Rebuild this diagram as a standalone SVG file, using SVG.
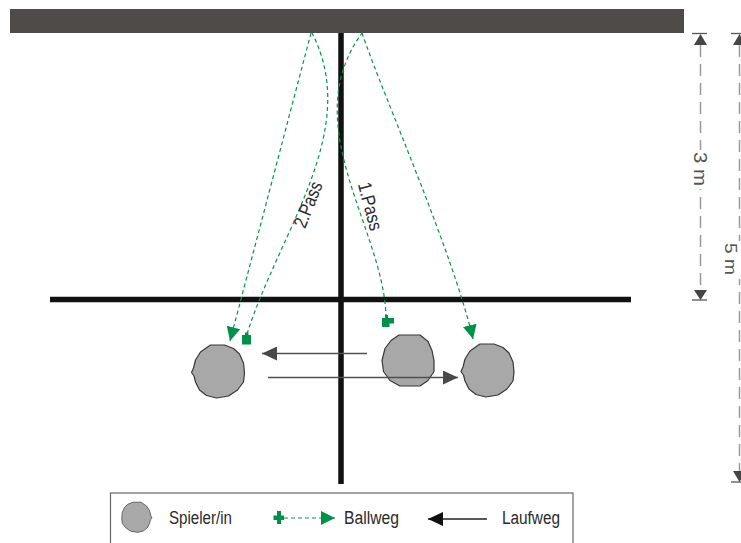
<svg xmlns="http://www.w3.org/2000/svg" width="741" height="543" viewBox="0 0 741 543">
<style>
  .txt { font-family: "Liberation Sans", Arial, sans-serif; fill: #2a2a2a; }
  .player { fill: #a8a8a8; stroke: #383838; stroke-width: 1.2; stroke-linejoin: round; }
  .ball { fill: none; stroke: #0a9150; stroke-width: 1.2; stroke-dasharray: 4 3; }
  .run { fill: none; stroke: #505050; stroke-width: 1.3; }
  .dim { fill: none; stroke: #9a9a9a; stroke-width: 1.5; stroke-dasharray: 12 7; }
  .tick { stroke: #555; stroke-width: 1.3; }
  .dimhead { fill: #454545; }
  .sq { fill: #009048; }
  .court { stroke: #111; stroke-width: 5.5; }
</style>
<defs>
  <marker id="ga" markerUnits="userSpaceOnUse" markerWidth="14" markerHeight="14" viewBox="0 0 14 14" refX="14" refY="7" orient="auto">
    <path d="M0,0 L14,7 L0,14 Z" fill="#009048"/>
  </marker>
  <marker id="ra" markerUnits="userSpaceOnUse" markerWidth="15" markerHeight="14" viewBox="0 0 15 14" refX="15" refY="7" orient="auto">
    <path d="M0,0 L15,7 L0,14 Z" fill="#4a4846"/>
  </marker>
  <marker id="ka" markerUnits="userSpaceOnUse" markerWidth="15" markerHeight="14" viewBox="0 0 15 14" refX="15" refY="7" orient="auto">
    <path d="M0,0 L15,7 L0,14 Z" fill="#111"/>
  </marker>
  <path id="pn" d="M -8,-26 L 6,-26 L 15,-22.5 L 21,-17 L 25,-8 L 26,2 L 25,11 L 19,19 L 10,25 L -2,27 L -12,24.5 L -19,19 L -23,11 L -24.5,5 L -27,1.5 L -25,-3 L -23,-11 L -18,-19 Z"/>
  <path id="pr" d="M -9,-25.5 L 12,-25.5 L 20,-19 L 24,-10 L 26,0 L 26,11 L 20,20 L 12,25.5 L -8,25.5 L -18,20 L -24.5,11 L -26,0 L -23,-12 L -17,-20 Z"/>
</defs>

<rect width="741" height="543" fill="#fff"/>

<g id="court">
  <rect x="10" y="9" width="674" height="24" fill="#4f4b48"/>
  <line class="court" x1="341" y1="33" x2="341" y2="484"/>
  <line class="court" x1="50" y1="299.5" x2="631" y2="299.5"/>
</g>

<g id="dimension-3m">
  <line class="dim" x1="700.5" y1="45" x2="700.5" y2="291"/>
  <line class="tick" x1="692" y1="33.5" x2="707" y2="33.5"/>
  <polygon class="dimhead" points="700.5,34 694,45 707,45"/>
  <polygon class="dimhead" points="700.5,300 694,290 707,290"/>
  <line class="tick" x1="692" y1="300" x2="707" y2="300"/>
  <rect x="690" y="150" width="20" height="39" fill="#fff"/>
  <text class="txt" transform="translate(694,152) rotate(90)" font-size="19" textLength="34" lengthAdjust="spacingAndGlyphs" style="fill:#555">3 m</text>
</g>

<g id="dimension-5m">
  <line class="dim" x1="739.5" y1="45" x2="739.5" y2="471"/>
  <line class="tick" x1="731" y1="33.5" x2="746" y2="33.5"/>
  <polygon class="dimhead" points="739.5,34 733,45 746,45"/>
  <polygon class="dimhead" points="739.5,482 733,471 746,471"/>
  <line class="tick" x1="731" y1="482" x2="746" y2="482"/>
  <rect x="724" y="241" width="17" height="38" fill="#fff"/>
  <text class="txt" transform="translate(725,243) rotate(90)" font-size="17" textLength="32" lengthAdjust="spacingAndGlyphs" style="fill:#555">5 m</text>
</g>

<g id="player-left"><use href="#pn" class="player" transform="translate(218.5,371)"/></g>
<g id="player-middle"><use href="#pr" class="player" transform="translate(408,360.5)"/></g>
<g id="player-right"><use href="#pn" class="player" transform="translate(488,370)"/></g>

<g id="connectors">
  <!-- 1. Pass -->
  <path class="ball" d="M386,318 C385,230 295,125 362,33"/>
  <path class="ball" d="M362,33 C385,100 452,250 473,339" marker-end="url(#ga)"/>
  <path class="sq" d="M382,318 L385,318 L385,315 L388,315 L388,318 L394,318 L394,323.5 L389.5,323.5 L389.5,327 L382,327 Z"/>
  <!-- 2. Pass -->
  <path class="ball" d="M247,334 C280,230 362,130 312,33"/>
  <path class="ball" d="M311,33 L230,341" marker-end="url(#ga)"/>
  <path class="sq" d="M242,335 L245,335 L245,332.5 L248.5,332.5 L248.5,335 L251,335 L251,344.5 L242,344.5 Z"/>
  <!-- Laufwege -->
  <path class="run" d="M367,353.5 L262,353.5" marker-end="url(#ra)"/>
  <path class="run" d="M268,377.5 L458,377.5" marker-end="url(#ra)"/>
</g>

<g id="label-2pass">
  <text class="txt" transform="translate(314,207) rotate(-68)" font-size="19" text-anchor="middle" textLength="48" lengthAdjust="spacingAndGlyphs">2.Pass</text>
</g>
<g id="label-1pass">
  <text class="txt" transform="translate(364,208) rotate(75)" font-size="19" text-anchor="middle" textLength="49" lengthAdjust="spacingAndGlyphs">1.Pass</text>
</g>

<g id="legend">
  <rect x="110.5" y="493" width="462.5" height="60" fill="none" stroke="#666" stroke-width="1.2"/>
  <use href="#pn" class="player" transform="translate(136.5,517) scale(-0.57,0.57)"/>
  <text class="txt" x="169" y="523.5" font-size="18" textLength="63" lengthAdjust="spacingAndGlyphs">Spieler/in</text>
  <path class="sq" d="M277,511 L281,511 L281,515.5 L284,515.5 L284,520 L281,520 L281,524 L277,524 L277,520 L273.5,520 L273.5,515.5 L277,515.5 Z"/>
  <path class="ball" d="M284,518 L335,518" marker-end="url(#ga)"/>
  <text class="txt" x="344" y="523.5" font-size="18" textLength="55" lengthAdjust="spacingAndGlyphs">Ballweg</text>
  <path d="M487,519 L428,519" stroke="#222" stroke-width="1.4" fill="none" marker-end="url(#ka)"/>
  <text class="txt" x="502" y="523.5" font-size="18" textLength="58" lengthAdjust="spacingAndGlyphs">Laufweg</text>
</g>
</svg>
